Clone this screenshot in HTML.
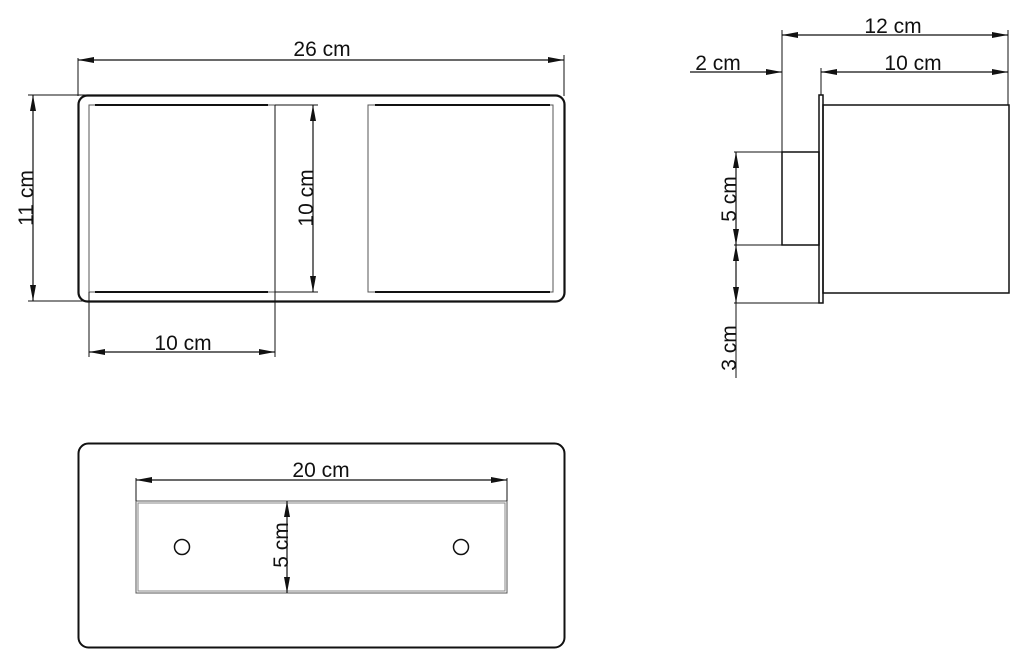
<!DOCTYPE html>
<html><head><meta charset="utf-8"><style>
html,body{margin:0;padding:0;background:#fff;}
svg{display:block;}
text{font-family:"Liberation Sans",Arial,sans-serif;font-size:21px;fill:#111;}
</style></head><body>
<svg width="1020" height="670" viewBox="0 0 1020 670" xmlns="http://www.w3.org/2000/svg">
<defs>
<marker id="a" viewBox="0 0 16 6" refX="16" refY="3" markerWidth="16" markerHeight="6" markerUnits="userSpaceOnUse" orient="auto-start-reverse"><path d="M0,0 L16,3 L0,6 Z" fill="#111"/></marker>
</defs>
<g stroke="#111" fill="none">
<rect x="78.5" y="95.5" width="486" height="206" rx="9" stroke-width="2.2"/>
<rect x="89" y="105" width="186" height="187" stroke-width="1" stroke="#555"/>
<line x1="95" y1="105" x2="268" y2="105" stroke-width="2"/>
<line x1="95" y1="292" x2="268" y2="292" stroke-width="2"/>
<rect x="368" y="105" width="185" height="187" stroke-width="1" stroke="#555"/>
<line x1="375" y1="105" x2="550" y2="105" stroke-width="2"/>
<line x1="375" y1="292" x2="550" y2="292" stroke-width="2"/>
<line x1="78" y1="58" x2="78" y2="96" stroke-width="1"/>
<line x1="564" y1="55" x2="564" y2="96" stroke-width="1"/>
<line x1="78" y1="60" x2="564" y2="60" stroke-width="1.2" marker-start="url(#a)" marker-end="url(#a)"/>
<line x1="28" y1="95" x2="88" y2="95" stroke-width="1"/>
<line x1="28" y1="301" x2="88" y2="301" stroke-width="1"/>
<line x1="33" y1="95" x2="33" y2="301" stroke-width="1.2" marker-start="url(#a)" marker-end="url(#a)"/>
<line x1="275" y1="105" x2="318" y2="105" stroke-width="1"/>
<line x1="275" y1="292" x2="318" y2="292" stroke-width="1"/>
<line x1="313" y1="105" x2="313" y2="292" stroke-width="1.2" marker-start="url(#a)" marker-end="url(#a)"/>
<line x1="89" y1="292" x2="89" y2="357" stroke-width="1"/>
<line x1="275" y1="105" x2="275" y2="357" stroke-width="1"/>
<line x1="89" y1="352" x2="275" y2="352" stroke-width="1.2" marker-start="url(#a)" marker-end="url(#a)"/>

<rect x="819" y="95" width="4" height="208" stroke-width="1.5"/>
<rect x="823" y="105" width="186" height="188" stroke-width="1.5"/>
<rect x="782" y="152" width="37" height="93" stroke-width="1.5"/>
<line x1="782" y1="30" x2="782" y2="152" stroke-width="1"/>
<line x1="1008" y1="30" x2="1008" y2="105" stroke-width="1"/>
<line x1="821" y1="68" x2="821" y2="95" stroke-width="1"/>
<line x1="782" y1="35" x2="1008" y2="35" stroke-width="1.2" marker-start="url(#a)" marker-end="url(#a)"/>
<line x1="690" y1="72" x2="782" y2="72" stroke-width="1.2" marker-end="url(#a)"/>
<line x1="821" y1="72" x2="1008" y2="72" stroke-width="1.2" marker-start="url(#a)" marker-end="url(#a)"/>
<line x1="734" y1="152" x2="782" y2="152" stroke-width="1"/>
<line x1="734" y1="245" x2="782" y2="245" stroke-width="1"/>
<line x1="734" y1="303" x2="821" y2="303" stroke-width="1"/>
<line x1="736" y1="152" x2="736" y2="245" stroke-width="1.2" marker-start="url(#a)" marker-end="url(#a)"/>
<line x1="736" y1="245" x2="736" y2="303" stroke-width="1.2" marker-start="url(#a)" marker-end="url(#a)"/>
<line x1="736" y1="303" x2="736" y2="378" stroke-width="1"/>

<rect x="78.5" y="443.5" width="486" height="204" rx="10" stroke-width="2"/>
<rect x="136" y="501" width="371" height="92" stroke-width="1" stroke="#555"/>
<rect x="138" y="503" width="367" height="88" stroke-width="1" stroke="#888"/>
<line x1="136" y1="478" x2="136" y2="501" stroke-width="1"/>
<line x1="507" y1="478" x2="507" y2="501" stroke-width="1"/>
<line x1="136" y1="480" x2="507" y2="480" stroke-width="1.2" marker-start="url(#a)" marker-end="url(#a)"/>
<line x1="287" y1="501" x2="287" y2="593" stroke-width="1.2" marker-start="url(#a)" marker-end="url(#a)"/>
<circle cx="182" cy="547" r="7.5" stroke-width="1.5"/>
<circle cx="461" cy="547" r="7.5" stroke-width="1.5"/>
</g>
<text x="322" y="56" text-anchor="middle">26 cm</text>
<text x="183" y="350" text-anchor="middle">10 cm</text>
<text transform="translate(33,198) rotate(-90)" text-anchor="middle">11 cm</text>
<text transform="translate(313,198) rotate(-90)" text-anchor="middle">10 cm</text>
<text x="893" y="33" text-anchor="middle">12 cm</text>
<text x="913" y="70" text-anchor="middle">10 cm</text>
<text x="718" y="70" text-anchor="middle">2 cm</text>
<text transform="translate(736,199) rotate(-90)" text-anchor="middle">5 cm</text>
<text transform="translate(736,348) rotate(-90)" text-anchor="middle">3 cm</text>
<text x="321" y="477" text-anchor="middle">20 cm</text>
<text transform="translate(288,545) rotate(-90)" text-anchor="middle">5 cm</text>
</svg>
</body></html>
